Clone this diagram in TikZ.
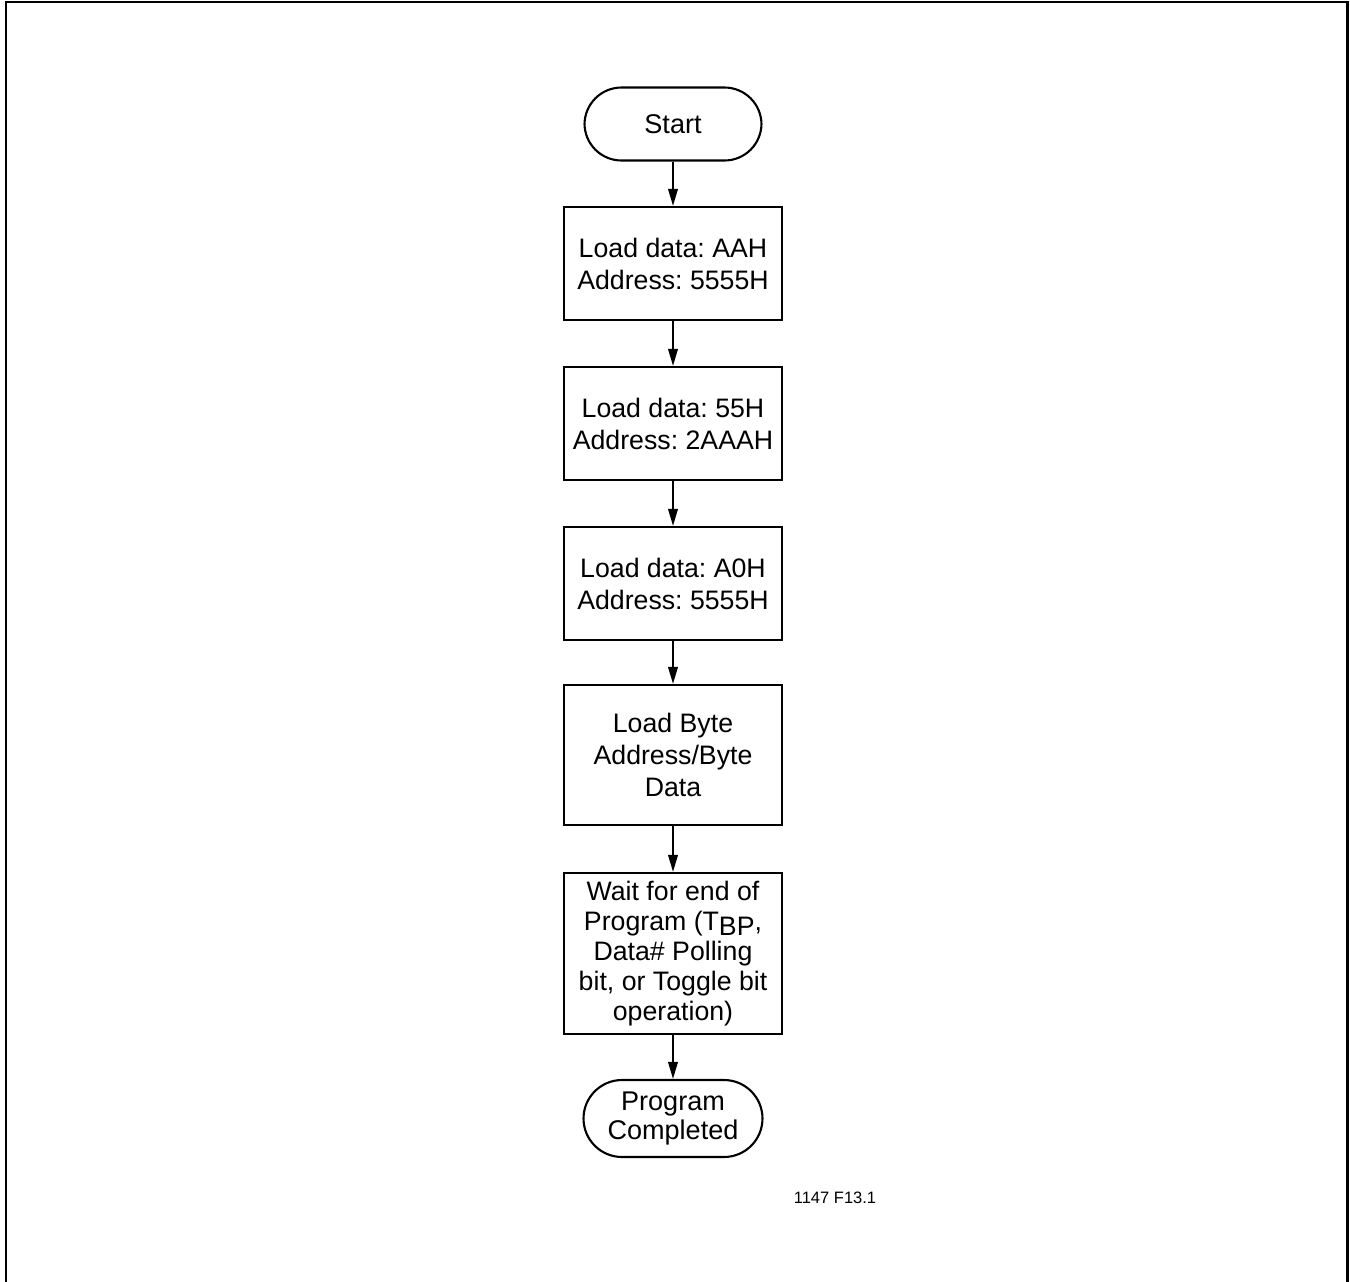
\documentclass[tikz,border=0pt]{standalone}
\usepackage{fontspec}
\setmainfont{Liberation Sans}
\frenchspacing
\usetikzlibrary{arrows.meta}
\tikzset{
  proc/.style={draw, line width=1.2pt, minimum width=4.36cm, align=center,
    font=\fontsize{15.2}{18.2}\selectfont, inner sep=0pt},
  term/.style={draw, line width=1.2pt, align=center, rounded corners=0.74cm,
    font=\fontsize{15.4}{16.8}\selectfont, inner sep=0pt},
  flow/.style={line width=1.2pt, -{Triangle[length=0.34cm,width=0.19cm]}}
}
\begin{document}
\begin{tikzpicture}[x=0.02cm,y=-0.02cm]
 \useasboundingbox (0,0) rectangle (1350,1282);
 \draw[line width=1.7pt] (6,1282) -- (6,2) -- (1347,2) -- (1347,1282); % frame
 \node[term, minimum width=3.54cm, minimum height=1.46cm] (start) at (673,124) {Start};
 \node[proc, minimum height=2.26cm] (ld1) at (673,263.5) {Load data: AAH\\Address: 5555H};
 \node[proc, minimum height=2.26cm] (ld2) at (673,423.5) {Load data: 55H\\Address: 2AAAH};
 \node[proc, minimum height=2.26cm] (ld3) at (673,583.5) {Load data: A0H\\Address: 5555H};
 \node[proc, minimum height=2.8cm] (byte) at (673,755) {Load Byte\\Address/Byte\\Data};
 \node[proc, minimum height=3.22cm, font=\fontsize{15.2}{17}\selectfont] (wait) at (673,953.5)
   {Wait for end of\\Program (T\raisebox{-0.35ex}{BP},\\Data\# Polling\\bit, or Toggle bit\\operation)};
 \node[term, minimum width=3.58cm, minimum height=1.54cm, rounded corners=0.77cm] (done) at (673,1118.5) {Program\\Completed};
 \foreach \a/\b in {start/ld1, ld1/ld2, ld2/ld3, ld3/byte, byte/wait, wait/done} % arrows
   \draw[flow] (\a) -- (\b);
 \node[font=\fontsize{9.4}{10}\selectfont] (fig) at (835,1198) {1147 F13.1};
\end{tikzpicture}
\end{document}
